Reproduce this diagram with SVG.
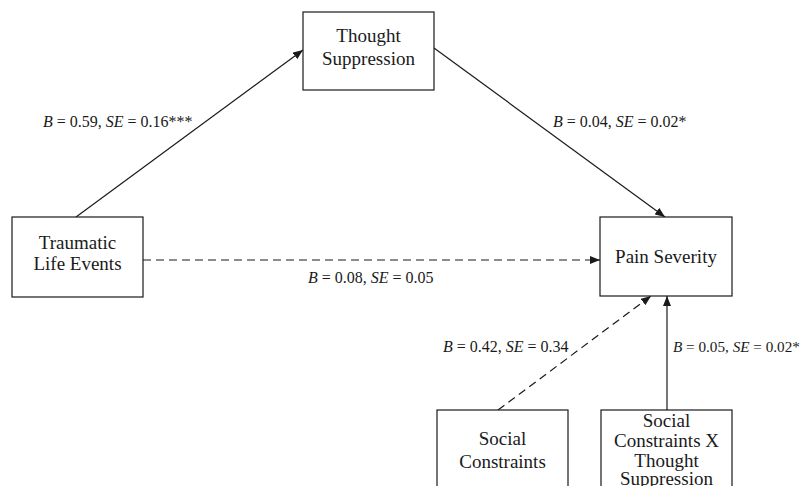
<svg xmlns="http://www.w3.org/2000/svg" width="804" height="486" viewBox="0 0 804 486">
<defs>
<marker id="ah" viewBox="0 0 10 8" refX="10" refY="4" markerWidth="10" markerHeight="8" markerUnits="userSpaceOnUse" orient="auto">
<path d="M0,0 L10,4 L0,8 z" fill="#1a1a1a"/>
</marker>
<style>
.box{fill:#fff;stroke:#1a1a1a;stroke-width:1.2}
.nt{font-family:"Liberation Serif","Times New Roman",serif;font-size:19px;fill:#1a1a1a;text-anchor:middle}
.lb{font-family:"Liberation Serif","Times New Roman",serif;font-size:16px;fill:#1a1a1a}
.ln{stroke:#1a1a1a;stroke-width:1.2;fill:none;marker-end:url(#ah)}
.dash{stroke-dasharray:8 5}
</style>
</defs>
<rect width="804" height="486" fill="#fff"/>
<g id="connectors">
<line class="ln" x1="76" y1="217" x2="303" y2="50"/>
<line class="ln" x1="434" y1="48" x2="665" y2="217"/>
<line class="ln dash" x1="143" y1="260" x2="600" y2="260"/>
<line class="ln dash" x1="498" y1="410" x2="651" y2="296"/>
<line class="ln" x1="667" y1="410" x2="667" y2="296"/>
</g>
<g id="labels">
<text class="lb" x="43" y="127"><tspan font-style="italic">B</tspan> = 0.59, <tspan font-style="italic">SE</tspan> = 0.16***</text>
<text class="lb" x="553" y="127"><tspan font-style="italic">B</tspan> = 0.04, <tspan font-style="italic">SE</tspan> = 0.02*</text>
<text class="lb" x="308" y="283"><tspan font-style="italic">B</tspan> = 0.08, <tspan font-style="italic">SE</tspan> = 0.05</text>
<text class="lb" x="443" y="352"><tspan font-style="italic">B</tspan> = 0.42, <tspan font-style="italic">SE</tspan> = 0.34</text>
<text class="lb" x="673" y="352" style="font-size:15.2px"><tspan font-style="italic">B</tspan> = 0.05, <tspan font-style="italic">SE</tspan> = 0.02*</text>
</g>
<g id="thought-suppression">
<rect class="box" x="303" y="12" width="131" height="78"/>
<text class="nt" x="368.5" y="42">Thought</text>
<text class="nt" x="368.5" y="64.5">Suppression</text>
</g>
<g id="traumatic-life-events">
<rect class="box" x="12" y="217" width="131" height="80"/>
<text class="nt" x="77.5" y="248.5">Traumatic</text>
<text class="nt" x="77.5" y="270">Life Events</text>
</g>
<g id="pain-severity">
<rect class="box" x="600" y="217" width="132" height="79"/>
<text class="nt" x="666" y="262.5">Pain Severity</text>
</g>
<g id="social-constraints">
<rect class="box" x="437" y="410" width="131" height="90"/>
<text class="nt" x="502.5" y="445">Social</text>
<text class="nt" x="502.5" y="468">Constraints</text>
</g>
<g id="social-x-thought">
<rect class="box" x="601" y="410" width="131" height="90"/>
<text class="nt" x="666.5" y="427">Social</text>
<text class="nt" x="666.5" y="447">Constraints X</text>
<text class="nt" x="666.5" y="467">Thought</text>
<text class="nt" x="666.5" y="485">Suppression</text>
</g>
</svg>
